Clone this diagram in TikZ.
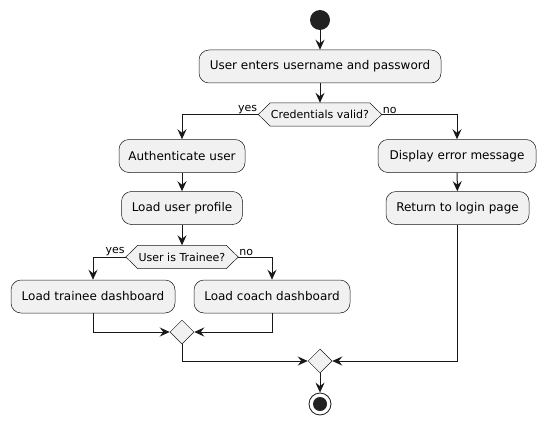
\documentclass[tikz,border=0pt]{standalone}
\usepackage{fontspec}
\setmainfont{DejaVu Sans}
\usetikzlibrary{arrows.meta,calc,shapes.geometric,backgrounds}
\definecolor{boxfill}{HTML}{F1F1F1}
\definecolor{ink}{HTML}{181818}
\definecolor{dark}{HTML}{222222}
\begin{document}
\begin{tikzpicture}[x=1pt,y=-1pt,
  act/.style={draw=ink, fill=boxfill, rounded corners=10pt, line width=0.5pt,
    minimum height=33pt, inner sep=0pt, font=\fontsize{12}{14}\selectfont},
  cond/.style={inner sep=0pt, minimum height=23pt, font=\fontsize{11}{13}\selectfont},
  hexa/.style={draw=ink, fill=boxfill, line width=0.5pt},
  merge/.style={diamond, draw=ink, fill=boxfill, line width=0.5pt, minimum size=24pt, inner sep=0pt},
  lbl/.style={inner sep=1pt, font=\fontsize{11}{13}\selectfont},
  flow/.style={draw=ink, line width=1pt, -{Stealth[length=10pt,width=9pt,inset=3.5pt]}}]
\useasboundingbox (0,0) rectangle (545,425);

\node[circle, fill=dark, minimum size=20pt, inner sep=0pt] (start) at (320,20) {};
\node[act, minimum width=242pt] (a1) at (320,66.5) {User enters username and password};
\node[cond, minimum width=123pt] (d1) at (320,114.5) {Credentials valid?};
\node[act, minimum width=126pt] (auth) at (182,156) {Authenticate user};
\node[act, minimum width=121pt] (prof) at (182,208) {Load user profile};
\node[cond, minimum width=112pt] (d2) at (182,257) {User is Trainee?};
\node[act, minimum width=164pt] (trainee) at (93,296.5) {Load trainee dashboard};
\node[act, minimum width=156pt] (coach) at (272,296.5) {Load coach dashboard};
\node[merge] (m2) at (182,332) {};
\node[act, minimum width=158pt] (err) at (457,156) {Display error message};
\node[act, minimum width=143pt] (ret) at (457.5,208) {Return to login page};
\node[merge] (m1) at (320,361) {};
\node[circle, draw=ink, line width=0.8pt, minimum size=22pt, inner sep=0pt] (stop) at (320,404) {};
\node[circle, fill=dark, minimum size=14pt, inner sep=0pt] (stopdot) at (stop) {};

\begin{scope}[on background layer]
\draw[hexa] (d1.west) -- ($(d1.north west)+(12,0)$) -- ($(d1.north east)+(-12,0)$) -- (d1.east)
  -- ($(d1.south east)+(-12,0)$) -- ($(d1.south west)+(12,0)$) -- cycle;
\draw[hexa] (d2.west) -- ($(d2.north west)+(12,0)$) -- ($(d2.north east)+(-12,0)$) -- (d2.east)
  -- ($(d2.south east)+(-12,0)$) -- ($(d2.south west)+(12,0)$) -- cycle;
\end{scope}

\node[lbl, anchor=south east] (y1) at (d1.west) {yes};
\node[lbl, anchor=south west] (n1) at (d1.east) {no};
\node[lbl, anchor=south east] (y2) at (d2.west) {yes};
\node[lbl, anchor=south west] (n2) at (d2.east) {no};

\draw[flow] (start) -- (a1);
\draw[flow] (a1) -- (d1);
\draw[flow] (d1.west) -| (auth);
\draw[flow] (d1.east) -| (err);
\draw[flow] (auth) -- (prof);
\draw[flow] (prof) -- (d2);
\draw[flow] (d2.west) -| (trainee);
\draw[flow] (d2.east) -| (coach);
\draw[flow] (trainee) |- (m2);
\draw[flow] (coach) |- (m2);
\draw[flow] (m2.south) |- (m1);
\draw[flow] (err) -- (ret);
\draw[flow] (ret) |- (m1);
\draw[flow] (m1) -- (stop);
\end{tikzpicture}
\end{document}
